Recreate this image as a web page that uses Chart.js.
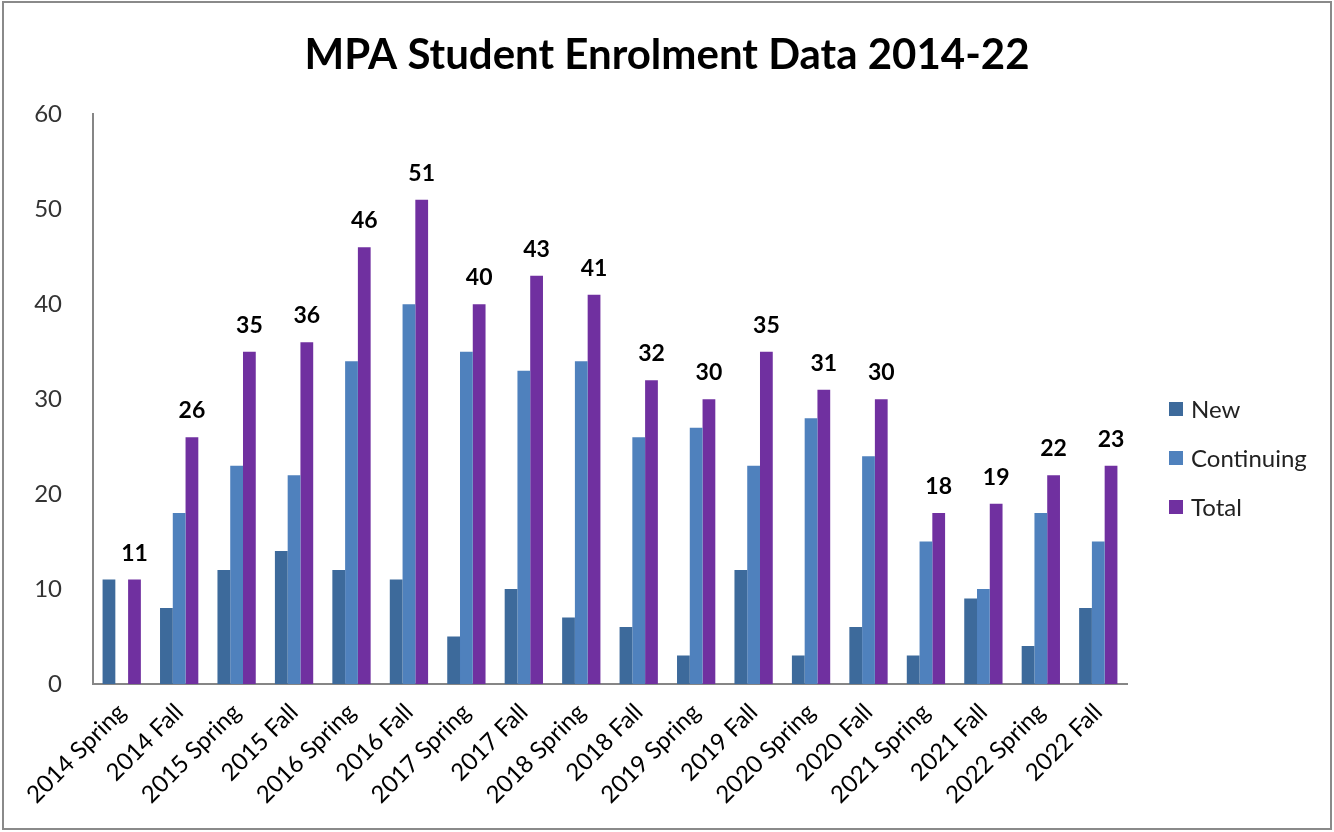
<!DOCTYPE html>
<html>
<head>
<meta charset="utf-8">
<title>MPA Student Enrolment Data 2014-22</title>
<script src="https://cdn.jsdelivr.net/npm/chart.js@4/dist/chart.umd.min.js"></script>
<style>
	html, body { margin: 0; padding: 0; background: #fff; }
	canvas { display: block; }
</style>
</head>
<body>
<canvas id="enrolment-chart" width="1334" height="832"></canvas>
<script>
// Terms on the x axis.
const terms = [
	'2014 Spring', '2014 Fall', '2015 Spring', '2015 Fall', '2016 Spring', '2016 Fall',
	'2017 Spring', '2017 Fall', '2018 Spring', '2018 Fall', '2019 Spring', '2019 Fall',
	'2020 Spring', '2020 Fall', '2021 Spring', '2021 Fall', '2022 Spring', '2022 Fall',
];

// Students per term.
const newStudents = [ 11, 8, 12, 14, 12, 11, 5, 10, 7, 6, 3, 12, 3, 6, 3, 9, 4, 8 ];
const continuing = [ 0, 18, 23, 22, 34, 40, 35, 33, 34, 26, 27, 23, 28, 24, 15, 10, 18, 15 ];
const total = [ 11, 26, 35, 36, 46, 51, 40, 43, 41, 32, 30, 35, 31, 30, 18, 19, 22, 23 ];

// Y axis ticks.
const yTicks = [ 0, 10, 20, 30, 40, 50, 60 ];

const FONT = 'Lato, "Liberation Sans", sans-serif';

// Frame round the whole picture.
const framePlugin = {
	id: 'frame',
	beforeDraw( chart ) {
		const { ctx, width, height } = chart;
		ctx.save();
		ctx.fillStyle = '#fff';
		ctx.fillRect( 0, 0, width, height );
		ctx.strokeStyle = '#8a8a8a';
		ctx.lineWidth = 2;
		ctx.strokeRect( 3, 2, width - 6, height - 5 );
		ctx.restore();
	},
};

// Value on top of each Total bar.
const totalLabelsPlugin = {
	id: 'totalLabels',
	afterDatasetsDraw( chart ) {
		const { ctx } = chart;
		const meta = chart.getDatasetMeta( 2 );
		ctx.save();
		ctx.font = 'bold 23px ' + FONT;
		ctx.fillStyle = '#000';
		ctx.textAlign = 'center';
		ctx.textBaseline = 'alphabetic';
		meta.data.forEach( ( bar, i ) => {
			ctx.fillText( String( total[ i ] ), bar.x, bar.y - 19 );
		} );
		ctx.restore();
	},
};

// Legend to the right of the plot, as in the original.
const sideLegendPlugin = {
	id: 'sideLegend',
	afterDraw( chart ) {
		const { ctx } = chart;
		const x = chart.chartArea.right + 42;
		let y = 409;
		ctx.save();
		ctx.font = '24px ' + FONT;
		ctx.textAlign = 'left';
		ctx.textBaseline = 'middle';
		chart.data.datasets.forEach( ( ds ) => {
			ctx.fillStyle = ds.backgroundColor;
			ctx.fillRect( x, y - 7, 14, 14 );
			ctx.fillStyle = '#222';
			ctx.fillText( ds.label, x + 22, y + 1 );
			y += 49;
		} );
		ctx.restore();
	},
};

const ctx = document.getElementById( 'enrolment-chart' );

new Chart( ctx, {
	type: 'bar',
	data: {
		labels: terms,
		datasets: [
			{ label: 'New', data: newStudents, backgroundColor: '#3d6a9b' },
			{ label: 'Continuing', data: continuing, backgroundColor: '#4f81bd' },
			{ label: 'Total', data: total, backgroundColor: '#7030a0' },
		],
	},
	options: {
		responsive: false,
		animation: false,
		devicePixelRatio: 1,
		categoryPercentage: 3 / 4.5,
		barPercentage: 1,
		layout: {
			padding: 0,
		},
		plugins: {
			legend: { display: false },
			tooltip: { enabled: false },
			title: {
				display: true,
				text: 'MPA Student Enrolment Data 2014-22',
				color: '#000',
				font: { family: FONT, size: 42, weight: 'bold' },
				padding: { top: 30, bottom: 34 },
			},
		},
		scales: {
			x: {
				grid: { display: false },
				border: { display: true, color: '#868686', width: 2 },
				ticks: {
					color: '#000',
					font: { family: FONT, size: 24 },
					minRotation: 45,
					maxRotation: 45,
					padding: 6,
					autoSkip: false,
				},
				afterFit( scale ) {
					scale.height = 148;
				},
			},
			y: {
				min: 0,
				max: 60,
				afterBuildTicks( scale ) {
					scale.ticks = yTicks.map( ( v ) => ( { value: v } ) );
				},
				grid: { display: false },
				border: { display: true, color: '#868686', width: 2 },
				ticks: {
					color: '#333',
					font: { family: FONT, size: 24 },
					padding: 23,
				},
				afterFit( scale ) {
					scale.width = 93;
				},
			},
			// Empty axis on the right: keeps room for the legend, title stays centred on the page.
			legendSpace: {
				type: 'linear',
				position: 'right',
				min: 0,
				max: 60,
				grid: { display: false },
				border: { display: false },
				ticks: { display: false },
				afterFit( scale ) {
					scale.width = 207;
				},
			},
		},
	},
	plugins: [ framePlugin, totalLabelsPlugin, sideLegendPlugin ],
} );
</script>
</body>
</html>
